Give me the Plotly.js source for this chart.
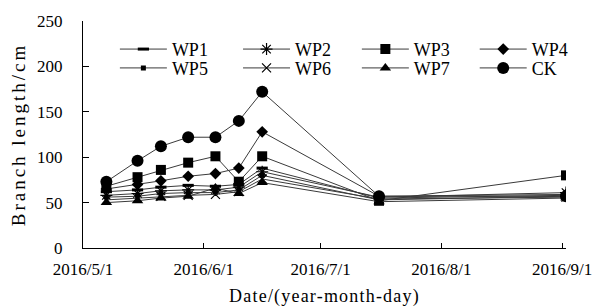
<!DOCTYPE html>
<html>
<head>
<meta charset="utf-8">
<script src="https://cdn.plot.ly/plotly-3.0.1.min.js"></script>
<style>
html,body{margin:0;padding:0;background:#fff;}
#chart{width:595px;height:307px;}
text.xtitle{letter-spacing:1.2px;}
text.ytitle{letter-spacing:3px;}
</style>
</head>
<body>
<div id="chart"></div>
<script>
const dates = ['2016-05-07','2016-05-15','2016-05-21','2016-05-28','2016-06-04','2016-06-10','2016-06-16','2016-07-16','2016-09-02'];
const WP1 = [62, 64, 67, 69, 68, 70, 88, 55, 58];
const WP2 = [58, 60, 63, 64, 64, 67, 84, 56, 61];
const WP3 = [68, 78, 86, 94, 101, 73, 101, 52, 80];
const WP4 = [65, 70, 74, 79, 82, 88, 128, 57, 59];
const WP5 = [56, 57, 60, 61, 61, 64, 80, 53, 57];
const WP6 = [53, 55, 57, 58, 59, 62, 76, 54, 56];
const WP7 = [50, 52, 55, 57, 66, 60, 72, 51, 55];
const CK  = [73, 96, 112, 122, 122, 140, 172, 57, 57];
const seriesNames = ['WP1','WP2','WP3','WP4','WP5','WP6','WP7','CK'];
const tickDates = ['2016-05-01','2016-06-01','2016-07-01','2016-08-01','2016-09-01'];
const tickLabels = ['2016/5/1','2016/6/1','2016/7/1','2016/8/1','2016/9/1'];

const values = [WP1, WP2, WP3, WP4, WP5, WP6, WP7, CK];
const markers = [
  {symbol:'line-ew-open', size:8, line:{width:3, color:'#000'}},
  {symbol:'asterisk-open', size:10, line:{width:1.2, color:'#000'}},
  {symbol:'square', size:10, color:'#000'},
  {symbol:'diamond', size:9, color:'#000'},
  {symbol:'square', size:5, color:'#000'},
  {symbol:'x-thin-open', size:9, line:{width:1.2, color:'#000'}},
  {symbol:'triangle-up', size:10, color:'#000'},
  {symbol:'circle', size:12, color:'#000'}
];

const traces = values.map((v, i) => ({
  type: 'scatter',
  mode: 'lines+markers',
  x: dates,
  y: v,
  name: seriesNames[i],
  legend: i === 0 ? 'legend' : 'legend' + (i + 1),
  line: {color: '#3a3a3a', width: 1},
  marker: Object.assign({color:'#000'}, markers[i])
}));

const font = {family: '"Liberation Serif", "Times New Roman", serif', color: '#000'};
const colX = [0.066, 0.321, 0.567, 0.811];
const rowY = [0.875, 0.792];
function lg(i){
  return {x: colX[i % 4], xref: 'paper', y: rowY[Math.floor(i / 4)], yref: 'paper',
    xanchor: 'left', yanchor: 'middle',
    orientation: 'v', bgcolor: 'rgba(0,0,0,0)', itemwidth: 47,
    font: Object.assign({}, font, {size: 18})};
}

const layout = {
  width: 595, height: 307,
  margin: {l: 83, r: 29, t: 20.5, b: 58.5},
  paper_bgcolor: '#fff', plot_bgcolor: '#fff',
  font: font,
  showlegend: true,
  xaxis: {
    type: 'date',
    range: ['2016-05-01', '2016-09-02'],
    tickvals: tickDates, ticktext: tickLabels,
    ticks: 'inside', ticklen: 5, tickcolor: '#000', tickwidth: 1,
    showline: true, linecolor: '#000', linewidth: 1,
    showgrid: false, zeroline: false,
    tickfont: Object.assign({}, font, {size: 17}),
    ticklabelstandoff: 6,
    title: {text: 'Date/(year-month-day)', font: Object.assign({}, font, {size: 18}), standoff: 11}
  },
  yaxis: {
    range: [0, 250], dtick: 50, tick0: 0,
    ticks: 'inside', ticklen: 6, tickcolor: '#000', tickwidth: 1,
    showline: true, linecolor: '#000', linewidth: 1,
    showgrid: false, zeroline: false,
    tickfont: Object.assign({}, font, {size: 17}),
    ticklabelstandoff: 16,
    title: {text: 'Branch length/cm', font: Object.assign({}, font, {size: 19}), standoff: 6}
  }
};
for (let i = 0; i < 8; i++) layout[i === 0 ? 'legend' : 'legend' + (i + 1)] = lg(i);

Plotly.newPlot('chart', traces, layout, {displayModeBar: false, staticPlot: true});
</script>
</body>
</html>
